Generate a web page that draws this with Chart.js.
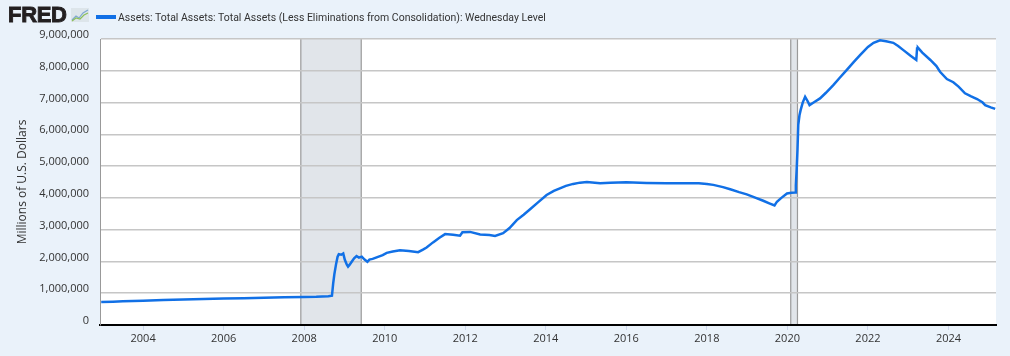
<!DOCTYPE html>
<html><head><meta charset="utf-8">
<script src="https://cdn.jsdelivr.net/npm/chart.js@4"></script>
<style>
html,body{margin:0;padding:0;background:#eaf2fa;}
#wrap{position:relative;width:1010px;height:356px;overflow:hidden;background:#eaf2fa;}
#c{position:absolute;left:0;top:0;}
#logo{position:absolute;left:8px;top:2px;font:bold 22px "Liberation Sans",Arial,sans-serif;color:#231f20;line-height:26px;-webkit-text-stroke:0.9px #231f20;letter-spacing:-0.3px;}
#icon{position:absolute;left:71px;top:8px;}
#legend{position:absolute;left:96px;top:9px;height:16px;color:#333;display:flex;align-items:center;white-space:nowrap;}
#legend .sw{display:inline-block;width:20px;height:4px;background:#1170e6;margin-right:2px;}
#legtext{font-family:Roboto,sans-serif;font-size:12px;}
</style></head>
<body>
<div id="wrap">
<canvas id="c" width="1010" height="356"></canvas>
<div id="logo">FRED</div>
<svg id="icon" width="18" height="14" viewBox="0 0 18 14"><rect x="0" y="0" width="18" height="14" fill="#dde5ea"/><polyline points="1,12 5,8 8,10 12,5 17,2" fill="none" stroke="#7fa8d0" stroke-width="1.2"/><polyline points="1,13 5,10 9,11 13,7 17,5" fill="none" stroke="#8cbf5a" stroke-width="1.2"/></svg>
<div id="legend"><span class="sw"></span><span id="legtext">Assets: Total Assets: Total Assets (Less Eliminations from Consolidation): Wednesday Level</span></div>
</div>
<script>
// Decimal-year dates and values (millions of U.S. dollars)
const DATES = [
2002.96,2003.25,2003.5,2003.75,2004.0,2004.5,2005.0,2005.5,2006.0,2006.5,2007.0,2007.5,2008.0,2008.3,2008.6,2008.69,
2008.72,2008.75,2008.79,2008.83,2008.86,2008.92,2008.97,2009.01,2009.06,2009.09,2009.13,2009.18,2009.24,2009.3,2009.36,
2009.43,2009.5,2009.57,2009.62,2009.7,2009.8,2009.95,2010.05,2010.2,2010.38,2010.6,2010.83,2010.95,2011.04,2011.2,2011.35,
2011.5,2011.7,2011.87,2011.93,2012.12,2012.37,2012.6,2012.74,2012.94,2013.1,2013.28,2013.45,2013.61,2013.8,2014.02,2014.2,
2014.35,2014.5,2014.68,2014.85,2015.02,2015.35,2015.6,2016.0,2016.5,2017.0,2017.5,2017.8,2018.0,2018.16,2018.4,2018.58,
2018.8,2018.99,2019.2,2019.4,2019.55,2019.68,2019.74,2019.85,2019.99,2020.1,2020.19,2020.21,2020.23,2020.25,2020.27,2020.3,
2020.33,2020.38,2020.44,2020.5,2020.55,2020.65,2020.81,2020.95,2021.14,2021.3,2021.47,2021.65,2021.81,2022.0,2022.14,2022.3,
2022.45,2022.63,2022.75,2022.88,2023.05,2023.2,2023.22,2023.24,2023.35,2023.55,2023.7,2023.79,2023.96,2024.12,2024.25,2024.41,
2024.55,2024.71,2024.85,2024.91,2025.05,2025.16
];
const ASSETS = [
720000,735000,745000,752000,765000,785000,805000,815000,830000,845000,860000,870000,885000,890000,905000,920000,
1300000,1600000,1900000,2150000,2230000,2210000,2250000,2050000,1900000,1840000,1900000,1990000,2100000,2170000,2120000,
2150000,2060000,1990000,2060000,2080000,2130000,2200000,2270000,2310000,2350000,2330000,2290000,2370000,2440000,2600000,2740000,
2860000,2840000,2810000,2920000,2930000,2850000,2830000,2800000,2890000,3050000,3300000,3470000,3640000,3850000,4090000,4220000,
4300000,4380000,4440000,4480000,4500000,4460000,4480000,4490000,4470000,4460000,4460000,4460000,4440000,4410000,4340000,4270000,
4180000,4110000,4010000,3910000,3830000,3760000,3880000,4000000,4140000,4160000,4170000,4400000,4880000,5500000,6300000,6600000,
6770000,7000000,7180000,7050000,6920000,7000000,7130000,7300000,7550000,7780000,8020000,8280000,8500000,8750000,8880000,8960000,
8930000,8880000,8780000,8650000,8480000,8340000,8700000,8730000,8570000,8340000,8150000,7970000,7740000,7640000,7500000,7290000,
7200000,7110000,7000000,6920000,6850000,6800000
];
const RECESSIONS = [[2007.917, 2009.417], [2020.083, 2020.25]];
const YEAR_TICKS = [2004,2006,2008,2010,2012,2014,2016,2018,2020,2022,2024];
const Y_TICKS = [0,1000000,2000000,3000000,4000000,5000000,6000000,7000000,8000000,9000000];

// fit legend text to the reference's width
(function(){
  const el = document.getElementById('legtext');
  const w = el.getBoundingClientRect().width;
  if (w > 0) el.style.fontSize = (12 * 428 / w).toFixed(2) + 'px';
})();

const bgPlugin = {
  id:'bg',
  beforeDraw(chart){
    const {ctx, chartArea:a, scales:{x}} = chart;
    ctx.save();
    ctx.fillStyle = '#ffffff';
    ctx.fillRect(a.left, a.top, a.right-a.left, a.bottom-a.top);
    RECESSIONS.forEach(([s,e])=>{
      const x1 = x.getPixelForValue(s), x2 = x.getPixelForValue(e);
      ctx.fillStyle = '#e1e5ea';
      ctx.fillRect(x1, a.top, x2-x1, a.bottom-a.top);
      ctx.strokeStyle = '#9a9a9a';
      ctx.lineWidth = 1.2;
      ctx.beginPath();
      ctx.moveTo(x1, a.top); ctx.lineTo(x1, a.bottom);
      ctx.moveTo(x2, a.top); ctx.lineTo(x2, a.bottom);
      ctx.stroke();
    });
    ctx.restore();
  }
};

new Chart(document.getElementById('c'), {
  type:'line',
  data:{datasets:[{
    data: DATES.map((d,i)=>({x:d, y:ASSETS[i]})),
    borderColor:'#1170e6', borderWidth:2.5, pointRadius:0, tension:0, fill:false
  }]},
  options:{
    responsive:false, animation:false, devicePixelRatio:1,
    layout:{padding:{left:0,right:14,top:39,bottom:0}},
    plugins:{legend:{display:false}, tooltip:{enabled:false}},
    scales:{
      x:{
        type:'linear', min:2002.93, max:2025.18,
        afterBuildTicks:s=>{ s.ticks = YEAR_TICKS.map(v=>({value:v})); },
        afterFit:s=>{ s.height = 31; },
        grid:{drawOnChartArea:false, drawTicks:true, tickLength:5, tickColor:'#ccd6eb', tickWidth:1},
        border:{color:'#000', width:2},
        ticks:{padding:2, font:{family:'Open Sans', size:11}, color:'#333', maxRotation:0, autoSkip:false, callback:v=>String(v)}
      },
      y:{
        min:0, max:9000000,
        afterBuildTicks:s=>{ s.ticks = Y_TICKS.map(v=>({value:v})); },
        afterFit:s=>{ s.width = 100; },
        grid:{color:'#c6c6c6', lineWidth:1.5, drawTicks:false},
        border:{color:'#999', width:1},
        ticks:{padding:11, labelOffset:-4, font:{family:'Open Sans', size:11}, color:'#333', callback:v=>v.toLocaleString('en-US')},
        title:{display:true, text:'Millions of U.S. Dollars', font:{family:'Open Sans', size:12}, color:'#333', padding:{top:15,bottom:0}}
      }
    }
  },
  plugins:[bgPlugin]
});
</script>
</body></html>
